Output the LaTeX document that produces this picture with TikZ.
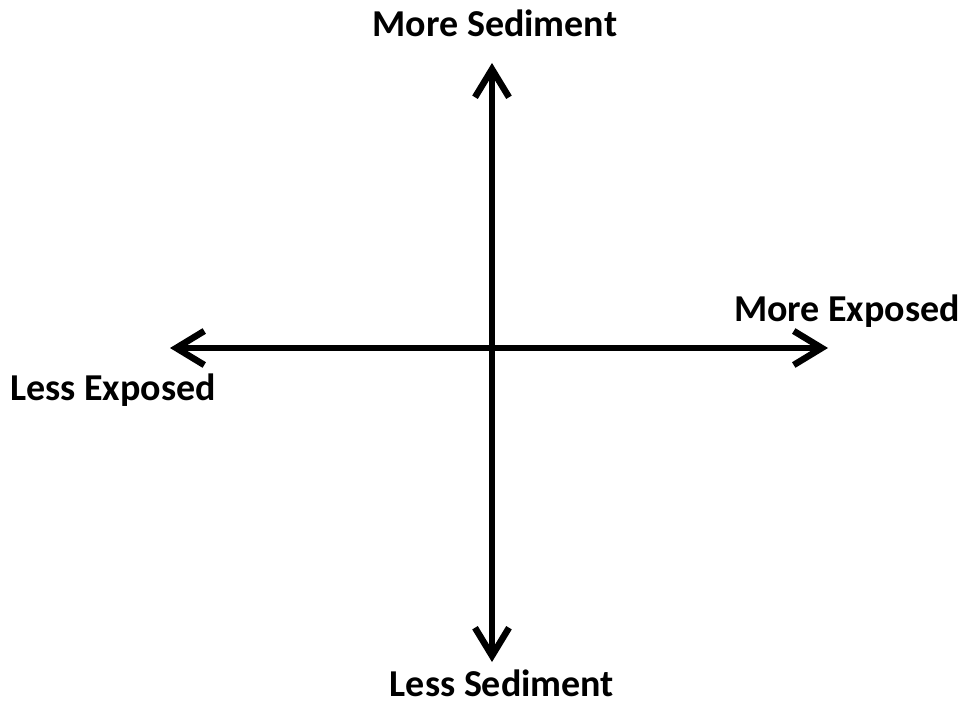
\documentclass[tikz,border=0pt]{standalone}
\usepackage{fontspec}
\setmainfont{Carlito}
\usetikzlibrary{arrows.meta}

\begin{document}
\begin{tikzpicture}[x=1pt, y=-1pt,
  ax/.style={{Straight Barb[length=28pt, width=34pt]}-{Straight Barb[length=28pt, width=34pt]},
    line width=6.5pt, line cap=round, line join=round},
  lab/.style={anchor=base, inner sep=0pt, font=\bfseries\fontsize{38}{40}\selectfont}]
  \useasboundingbox (0,0) rectangle (966,706);
  \coordinate (top) at (492,63);
  \coordinate (bot) at (492,662);
  \coordinate (lft) at (170,348);
  \coordinate (rgt) at (828,348);
  \draw[ax] (bot) -- (top);
  \draw[ax] (lft) -- (rgt);
  \node[lab] (more sed) at (495,37)  {More Sediment};
  \node[lab] (less sed) at (502,696) {Less Sediment};
  \node[lab] (more exp) at (847,321) {More Exposed};
  \node[lab] (less exp) at (113,400) {Less Exposed};
\end{tikzpicture}
\end{document}
